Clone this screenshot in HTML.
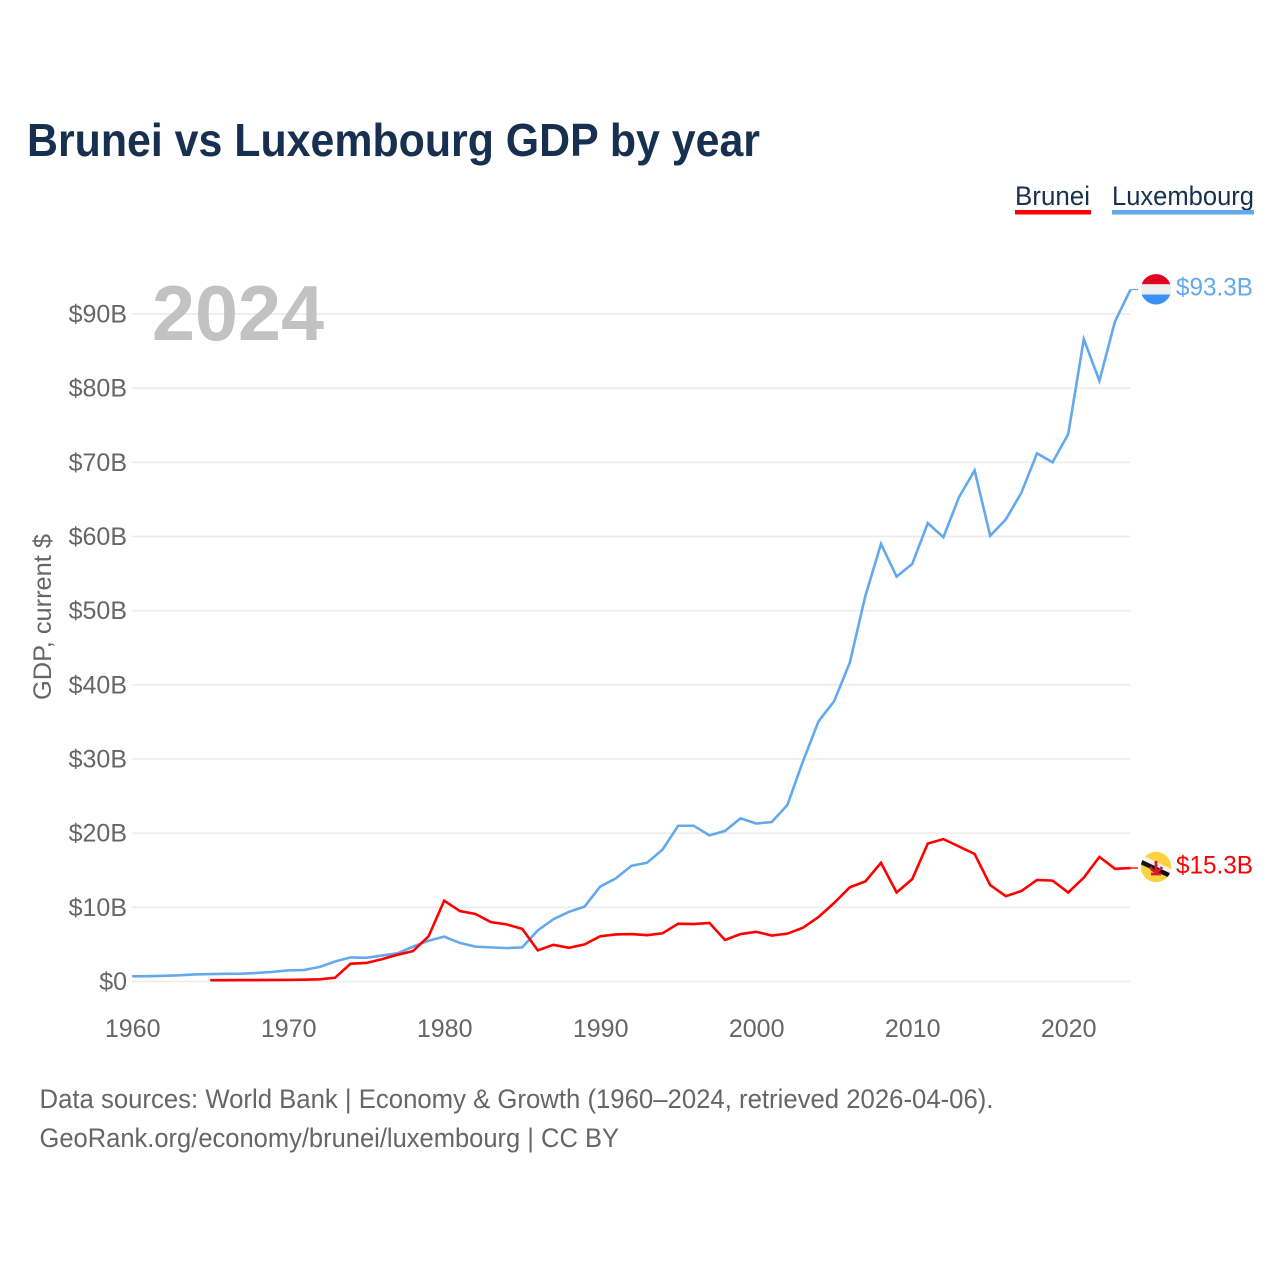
<!DOCTYPE html>
<html lang="en">
<head>
<meta charset="utf-8">
<title>Brunei vs Luxembourg GDP by year</title>
<style>
  html, body { margin: 0; padding: 0; background: #fff; }
  svg { display: block; font-family: "Liberation Sans", sans-serif; }
</style>
</head>
<body>
<svg id="chart" xmlns="http://www.w3.org/2000/svg" width="1280" height="1280" viewBox="0 0 1280 1280">
  <rect width="1280" height="1280" fill="#ffffff"/>
  <text x="27" y="156" font-size="46" font-weight="700" fill="#18304f" textLength="733" lengthAdjust="spacingAndGlyphs">Brunei vs Luxembourg GDP by year</text>

  <g>
    <text x="1015" y="205" font-size="27" fill="#18304f" textLength="75" lengthAdjust="spacingAndGlyphs">Brunei</text>
    <rect x="1015" y="210" width="76" height="4.5" fill="#ff0000"/>
  </g>
  <g>
    <text x="1112" y="205" font-size="27" fill="#18304f" textLength="142" lengthAdjust="spacingAndGlyphs">Luxembourg</text>
    <rect x="1112" y="210" width="142" height="4.5" fill="#63a9ec"/>
  </g>

  <g id="grid"></g>
  <g id="yticks"></g>
  <g id="xticks"></g>

  <text x="152" y="340" font-size="78" font-weight="700" fill="#c2c2c2" textLength="172" lengthAdjust="spacingAndGlyphs">2024</text>
  <text transform="translate(51 700) rotate(-90)" x="0" y="0" font-size="25" fill="#666666" textLength="166" lengthAdjust="spacingAndGlyphs">GDP, current $</text>

  <g id="lines"></g>

  <g>
    <clipPath id="lux-clip"><circle cx="1156" cy="289.3" r="15.2"/></clipPath>
    <g clip-path="url(#lux-clip)">
      <rect x="1140" y="274" width="32" height="10.3" fill="#e0001f"/>
      <rect x="1140" y="284.3" width="32" height="10.2" fill="#eeeeee"/>
      <rect x="1140" y="294.5" width="32" height="11" fill="#3a90f5"/>
    </g>
    <text x="1176" y="295.5" font-size="25" fill="#63a9ec" textLength="77" lengthAdjust="spacingAndGlyphs">$93.3B</text>
  </g>
  <g>
    <clipPath id="brn-clip"><circle cx="1156" cy="867" r="15.2"/></clipPath>
    <g clip-path="url(#brn-clip)">
      <rect x="1140" y="851" width="32" height="32" fill="#fcd33e"/>
      <path d="M1138 856 L1176 874" stroke="#f2f2f2" stroke-width="5" fill="none"/>
      <path d="M1138 860.5 L1176 878.5" stroke="#111111" stroke-width="4.5" fill="none"/>
      <path d="M1156 861 L1156 873 M1150 867 Q1156 876 1162 867 M1151 874 L1161 874" stroke="#d8182f" stroke-width="2.8" fill="none"/>
    </g>
    <text x="1176" y="873.5" font-size="25" fill="#ff0000" textLength="77" lengthAdjust="spacingAndGlyphs">$15.3B</text>
  </g>

  <text x="39.5" y="1108" font-size="27" fill="#666666" textLength="954" lengthAdjust="spacingAndGlyphs">Data sources: World Bank | Economy &amp; Growth (1960–2024, retrieved 2026-04-06).</text>
  <text x="39.5" y="1147" font-size="27" fill="#666666" textLength="579.5" lengthAdjust="spacingAndGlyphs">GeoRank.org/economy/brunei/luxembourg | CC BY</text>
</svg>
<script>
const startYear = 1960;
const endYear = 2024;
const xTickYears = [1960, 1970, 1980, 1990, 2000, 2010, 2020];
const yTickValues = [0, 10, 20, 30, 40, 50, 60, 70, 80, 90];
const yTickLabels = ["$0", "$10B", "$20B", "$30B", "$40B", "$50B", "$60B", "$70B", "$80B", "$90B"];
const luxembourgFirstYear = 1960;
const luxembourgValues = [0.7, 0.72, 0.76, 0.83, 0.95, 1.0, 1.04, 1.05, 1.15, 1.3,
  1.5, 1.55, 1.95, 2.7, 3.25, 3.2, 3.5, 3.8, 4.7, 5.5,
  6.05, 5.2, 4.7, 4.6, 4.5, 4.6, 6.9, 8.4, 9.4, 10.1,
  12.8, 13.9, 15.6, 16.0, 17.8, 21.0, 21.0, 19.7, 20.3, 22.0,
  21.3, 21.5, 23.8, 29.7, 35.1, 37.8, 43.0, 52.0, 59.0, 54.6,
  56.3, 61.8, 59.9, 65.3, 68.9, 60.1, 62.3, 65.9, 71.2, 70.0,
  73.8, 86.6, 81.0, 89.0, 93.3];
const bruneiFirstYear = 1965;
const bruneiValues = [0.18, 0.18, 0.19, 0.2, 0.21,
  0.22, 0.24, 0.3, 0.5, 2.4, 2.5, 3.0, 3.6, 4.1, 6.1,
  10.9, 9.5, 9.1, 8.0, 7.7, 7.1, 4.2, 4.95, 4.55, 5.0,
  6.1, 6.35, 6.4, 6.25, 6.5, 7.8, 7.75, 7.9, 5.6, 6.4,
  6.7, 6.2, 6.45, 7.25, 8.7, 10.6, 12.7, 13.5, 16.0, 12.0,
  13.8, 18.6, 19.2, 18.2, 17.2, 13.0, 11.5, 12.2, 13.7, 13.6,
  12.0, 14.0, 16.8, 15.2, 15.3];

const NS = "http://www.w3.org/2000/svg";
function xScale(year) { return 132.2 + (year - startYear) * 15.6; }
function yScale(value) { return 981.5 - value * 7.417; }
function make(tag, attrs, parent) {
  const el = document.createElementNS(NS, tag);
  for (const k in attrs) el.setAttribute(k, attrs[k]);
  parent.appendChild(el);
  return el;
}
const grid = document.getElementById("grid");
const yticks = document.getElementById("yticks");
const xticks = document.getElementById("xticks");
const lines = document.getElementById("lines");

yTickValues.forEach(function (v, i) {
  const gl = make("line", { x1: 132, x2: xScale(endYear), y1: yScale(v), y2: yScale(v), stroke: "#ececec", "stroke-width": 1.6 }, grid);
  
  
  const t = make("text", { x: 127, y: yScale(v) + 8.5, "text-anchor": "end", "font-size": 25, fill: "#666666" }, yticks);
  t.textContent = yTickLabels[i];
  
  
});
xTickYears.forEach(function (yr) {
  const t = make("text", { x: xScale(yr) + 0.5, y: 1037, "text-anchor": "middle", "font-size": 25, fill: "#666666" }, xticks);
  t.textContent = String(yr);
  
  
});
function pathFor(values, firstYear) {
  return values.map(function (v, i) {
    return xScale(firstYear + i).toFixed(2) + "," + yScale(v).toFixed(2);
  }).join(" ");
}
const luxLine = make("polyline", { points: pathFor(luxembourgValues, luxembourgFirstYear), fill: "none", stroke: "#63a9ec", "stroke-width": 2.6, "stroke-linejoin": "miter" }, lines);


const bruLine = make("polyline", { points: pathFor(bruneiValues, bruneiFirstYear), fill: "none", stroke: "#ff0000", "stroke-width": 2.6, "stroke-linejoin": "miter" }, lines);


const luxLeader = make("line", { x1: xScale(endYear), x2: 1138, y1: yScale(luxembourgValues[luxembourgValues.length - 1]), y2: yScale(luxembourgValues[luxembourgValues.length - 1]), stroke: "#63a9ec", "stroke-width": 1.3 }, lines);


const bruLeader = make("line", { x1: xScale(endYear), x2: 1138, y1: yScale(bruneiValues[bruneiValues.length - 1]), y2: yScale(bruneiValues[bruneiValues.length - 1]), stroke: "#ff0000", "stroke-width": 1.3 }, lines);


</script>
</body>
</html>
